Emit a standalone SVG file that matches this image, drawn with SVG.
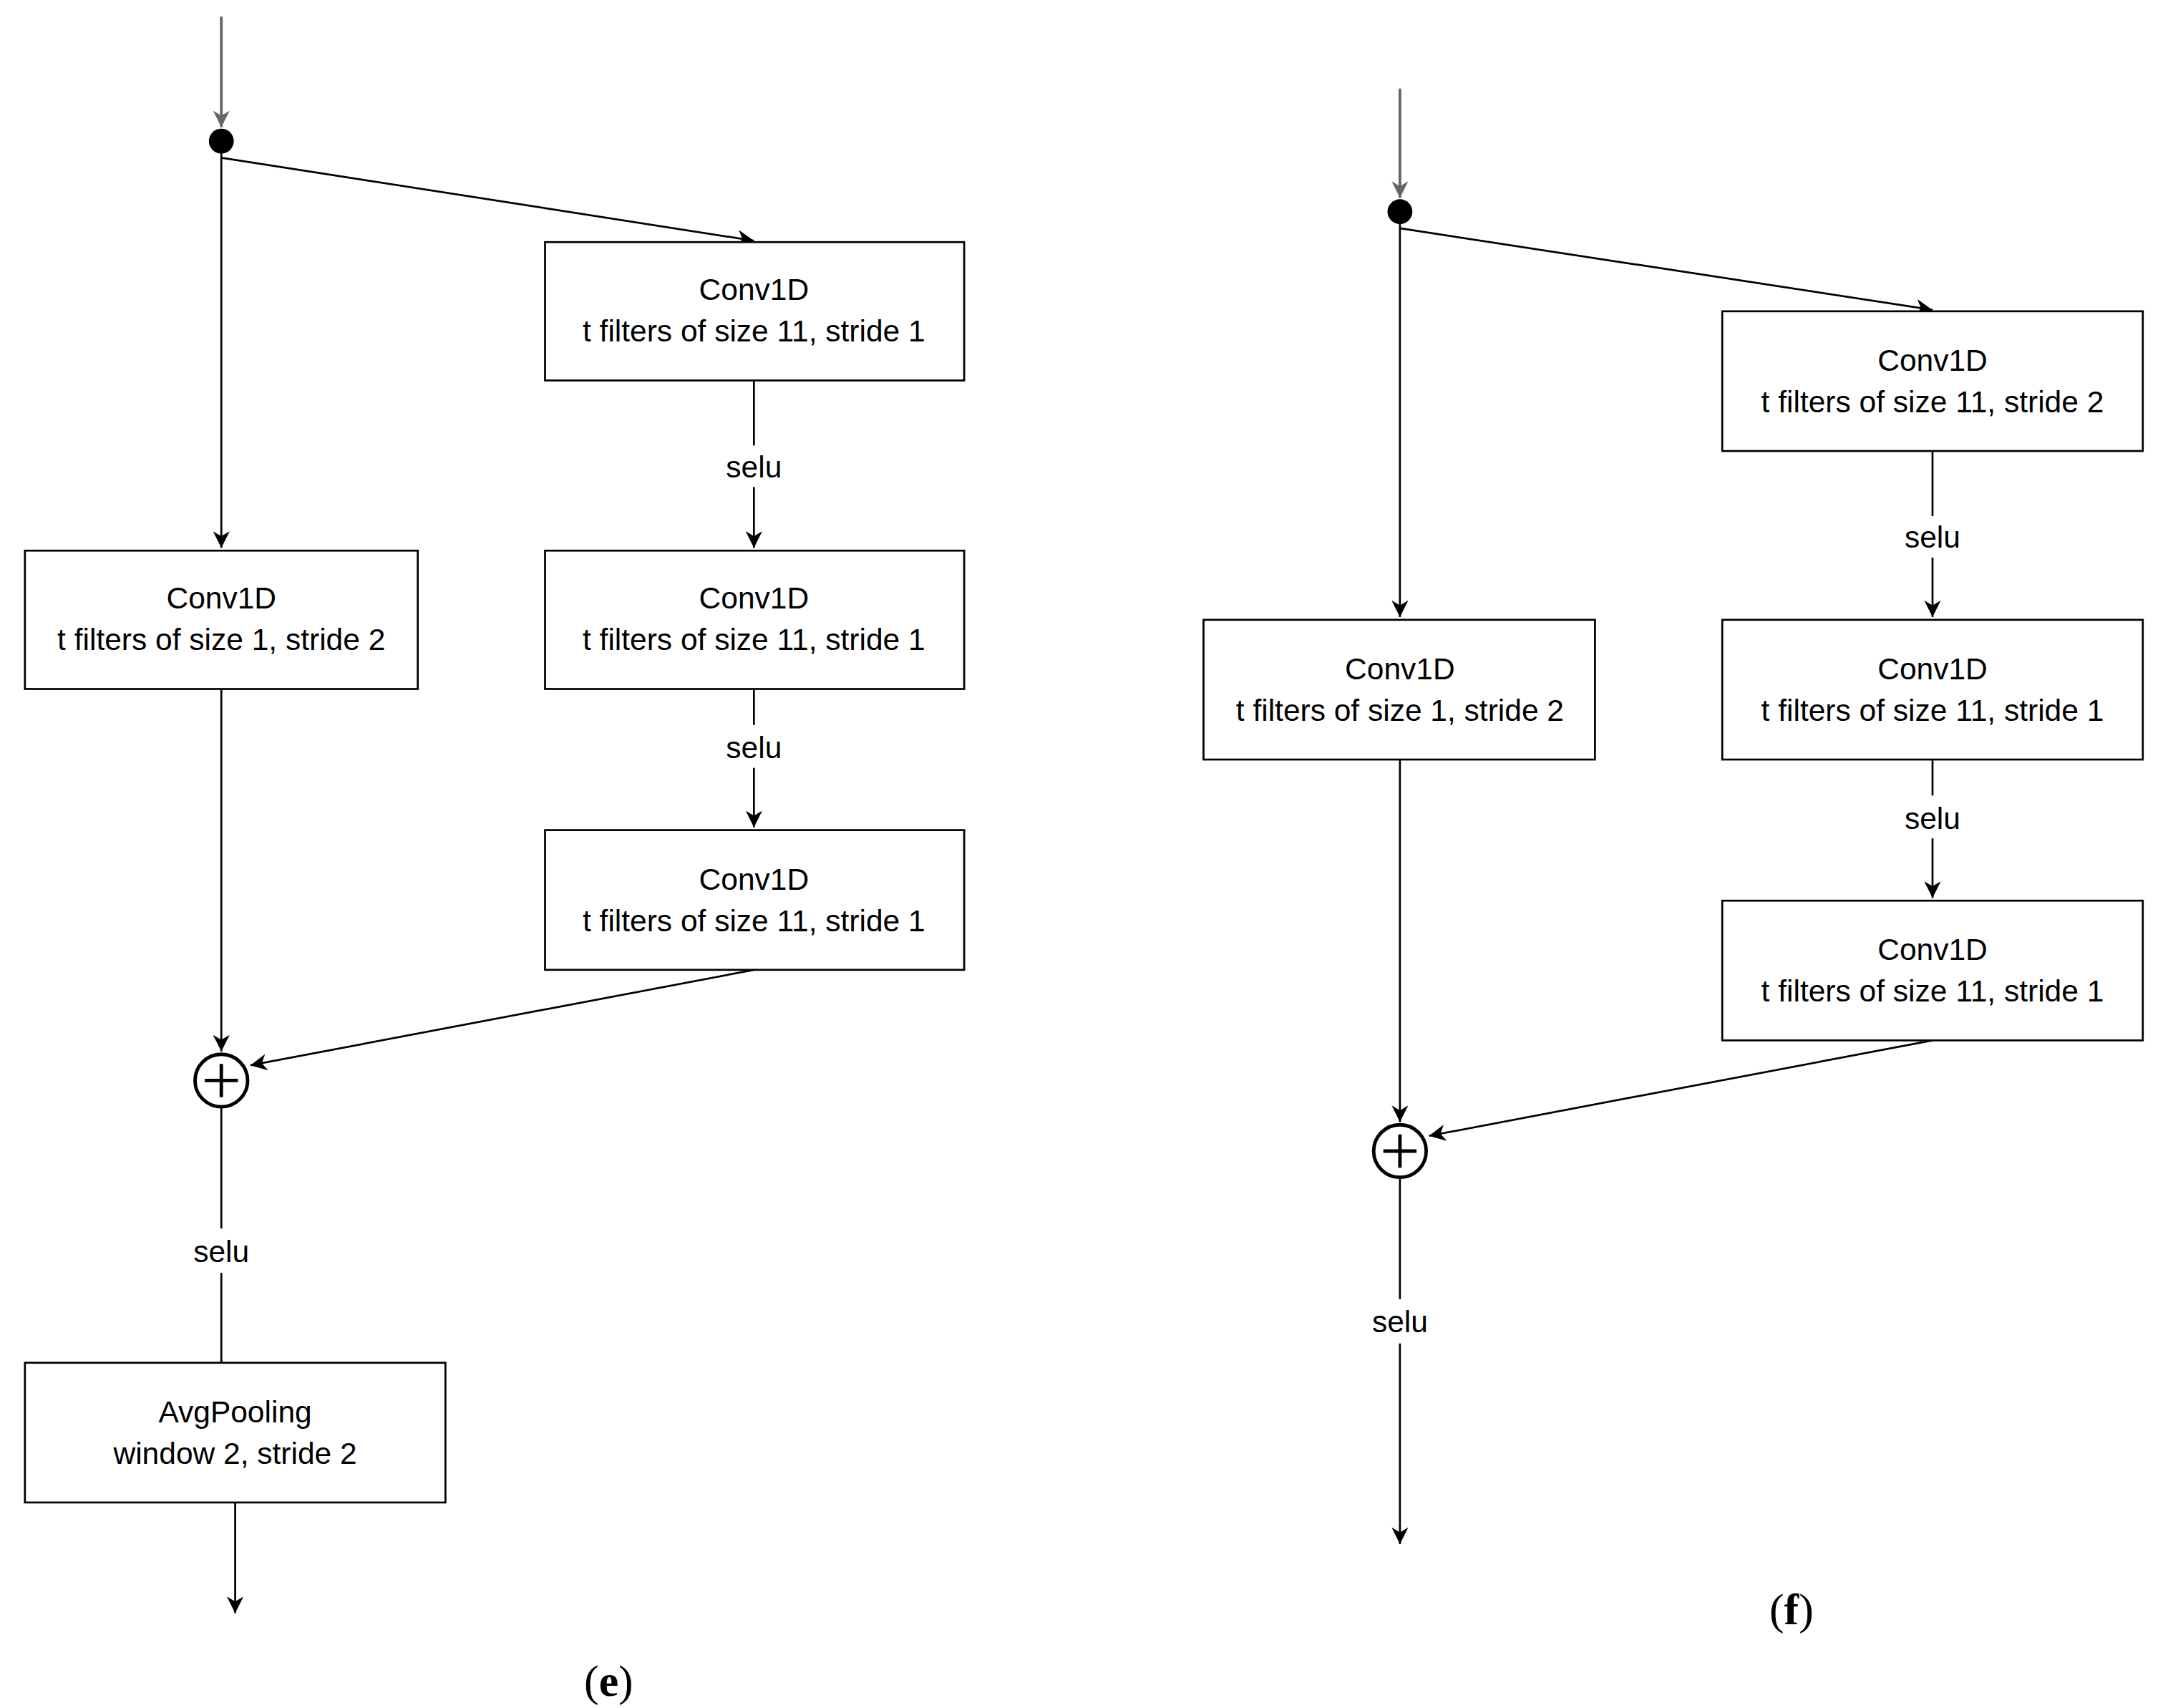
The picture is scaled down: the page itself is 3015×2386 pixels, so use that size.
<svg xmlns="http://www.w3.org/2000/svg" width="3015" height="2386" viewBox="0 0 3015 2386">
<style>
.b{fill:#fff;stroke:#000;stroke-width:1.4}
.l{fill:none;stroke:#000;stroke-width:1.4}
.t{font-family:"Liberation Sans",Arial,sans-serif;font-size:22px;text-anchor:middle;fill:#000}
.c{font-family:"Liberation Serif","Times New Roman",serif;font-size:32px;text-anchor:middle;fill:#000}
</style>
<defs>
<marker id="a" viewBox="0 0 10 10" refX="10" refY="5" markerWidth="12" markerHeight="12" markerUnits="userSpaceOnUse" orient="auto"><path d="M0,0 L10,5 L0,10 L3,5 Z" fill="#000"/></marker>
<marker id="g" viewBox="0 0 10 10" refX="10" refY="5" markerWidth="12" markerHeight="12" markerUnits="userSpaceOnUse" orient="auto"><path d="M0,0 L10,5 L0,10 L3,5 Z" fill="#666"/></marker>
</defs>
<rect width="3015" height="2386" fill="#fff"/>
<g transform="scale(1.9327)">
<g id="connectors">
<line x1="160" y1="12" x2="160" y2="92" stroke="#666" stroke-width="2" marker-end="url(#g)"/>
<line class="l" x1="160" y1="110" x2="160" y2="396" marker-end="url(#a)"/>
<line class="l" x1="160" y1="114" x2="545" y2="174" marker-end="url(#a)"/>
<line class="l" x1="545" y1="275" x2="545" y2="322"/>
<line class="l" x1="545" y1="352" x2="545" y2="396" marker-end="url(#a)"/>
<line class="l" x1="545" y1="498" x2="545" y2="524"/>
<line class="l" x1="545" y1="555" x2="545" y2="598" marker-end="url(#a)"/>
<line class="l" x1="160" y1="498" x2="160" y2="760" marker-end="url(#a)"/>
<line class="l" x1="545" y1="701" x2="181" y2="770" marker-end="url(#a)"/>
<line class="l" x1="160" y1="800" x2="160" y2="888"/>
<line class="l" x1="160" y1="920" x2="160" y2="985"/>
<line class="l" x1="170" y1="1086" x2="170" y2="1166" marker-end="url(#a)"/>
<line x1="1012" y1="64" x2="1012" y2="143" stroke="#666" stroke-width="2" marker-end="url(#g)"/>
<line class="l" x1="1012" y1="161" x2="1012" y2="446" marker-end="url(#a)"/>
<line class="l" x1="1012" y1="165" x2="1397" y2="224" marker-end="url(#a)"/>
<line class="l" x1="1397" y1="326" x2="1397" y2="373"/>
<line class="l" x1="1397" y1="403" x2="1397" y2="446" marker-end="url(#a)"/>
<line class="l" x1="1397" y1="549" x2="1397" y2="575"/>
<line class="l" x1="1397" y1="606" x2="1397" y2="649" marker-end="url(#a)"/>
<line class="l" x1="1012" y1="549" x2="1012" y2="811" marker-end="url(#a)"/>
<line class="l" x1="1397" y1="752" x2="1033" y2="821" marker-end="url(#a)"/>
<line class="l" x1="1012" y1="851" x2="1012" y2="939"/>
<line class="l" x1="1012" y1="971" x2="1012" y2="1116" marker-end="url(#a)"/>
</g>
<g id="labels">
<text class="t" x="545" y="345">selu</text>
<text class="t" x="545" y="548">selu</text>
<text class="t" x="160" y="912">selu</text>
<text class="t" x="1397" y="396">selu</text>
<text class="t" x="1397" y="599">selu</text>
<text class="t" x="1012" y="963">selu</text>
<text class="c" x="440" y="1226">(<tspan font-weight="bold">e</tspan>)</text>
<text class="c" x="1295" y="1174">(<tspan font-weight="bold">f</tspan>)</text>
</g>
<g id="e_split"><circle cx="160" cy="102" r="9" fill="#000"/></g>
<g id="e_conv_a"><rect class="b" x="394" y="175" width="303" height="100"/><text class="t" x="545" y="217">Conv1D</text><text class="t" x="545" y="247">t filters of size 11, stride 1</text></g>
<g id="e_conv_b"><rect class="b" x="394" y="398" width="303" height="100"/><text class="t" x="545" y="440">Conv1D</text><text class="t" x="545" y="470">t filters of size 11, stride 1</text></g>
<g id="e_conv_c"><rect class="b" x="394" y="600" width="303" height="101"/><text class="t" x="545" y="643">Conv1D</text><text class="t" x="545" y="673">t filters of size 11, stride 1</text></g>
<g id="e_conv_s"><rect class="b" x="18" y="398" width="284" height="100"/><text class="t" x="160" y="440">Conv1D</text><text class="t" x="160" y="470">t filters of size 1, stride 2</text></g>
<g id="e_add"><circle cx="160" cy="781" r="19" fill="#fff" stroke="#000" stroke-width="2.5"/><path d="M148,781 H172 M160,769 V793" stroke="#000" stroke-width="2.5"/></g>
<g id="e_pool"><rect class="b" x="18" y="985" width="304" height="101"/><text class="t" x="170" y="1028">AvgPooling</text><text class="t" x="170" y="1058">window 2, stride 2</text></g>
<g id="f_split"><circle cx="1012" cy="153" r="9" fill="#000"/></g>
<g id="f_conv_a"><rect class="b" x="1245" y="225" width="304" height="101"/><text class="t" x="1397" y="268">Conv1D</text><text class="t" x="1397" y="298">t filters of size 11, stride 2</text></g>
<g id="f_conv_b"><rect class="b" x="1245" y="448" width="304" height="101"/><text class="t" x="1397" y="491">Conv1D</text><text class="t" x="1397" y="521">t filters of size 11, stride 1</text></g>
<g id="f_conv_c"><rect class="b" x="1245" y="651" width="304" height="101"/><text class="t" x="1397" y="694">Conv1D</text><text class="t" x="1397" y="724">t filters of size 11, stride 1</text></g>
<g id="f_conv_s"><rect class="b" x="870" y="448" width="283" height="101"/><text class="t" x="1012" y="491">Conv1D</text><text class="t" x="1012" y="521">t filters of size 1, stride 2</text></g>
<g id="f_add"><circle cx="1012" cy="832" r="19" fill="#fff" stroke="#000" stroke-width="2.5"/><path d="M1000,832 H1024 M1012,820 V844" stroke="#000" stroke-width="2.5"/></g>
</g>
</svg>
